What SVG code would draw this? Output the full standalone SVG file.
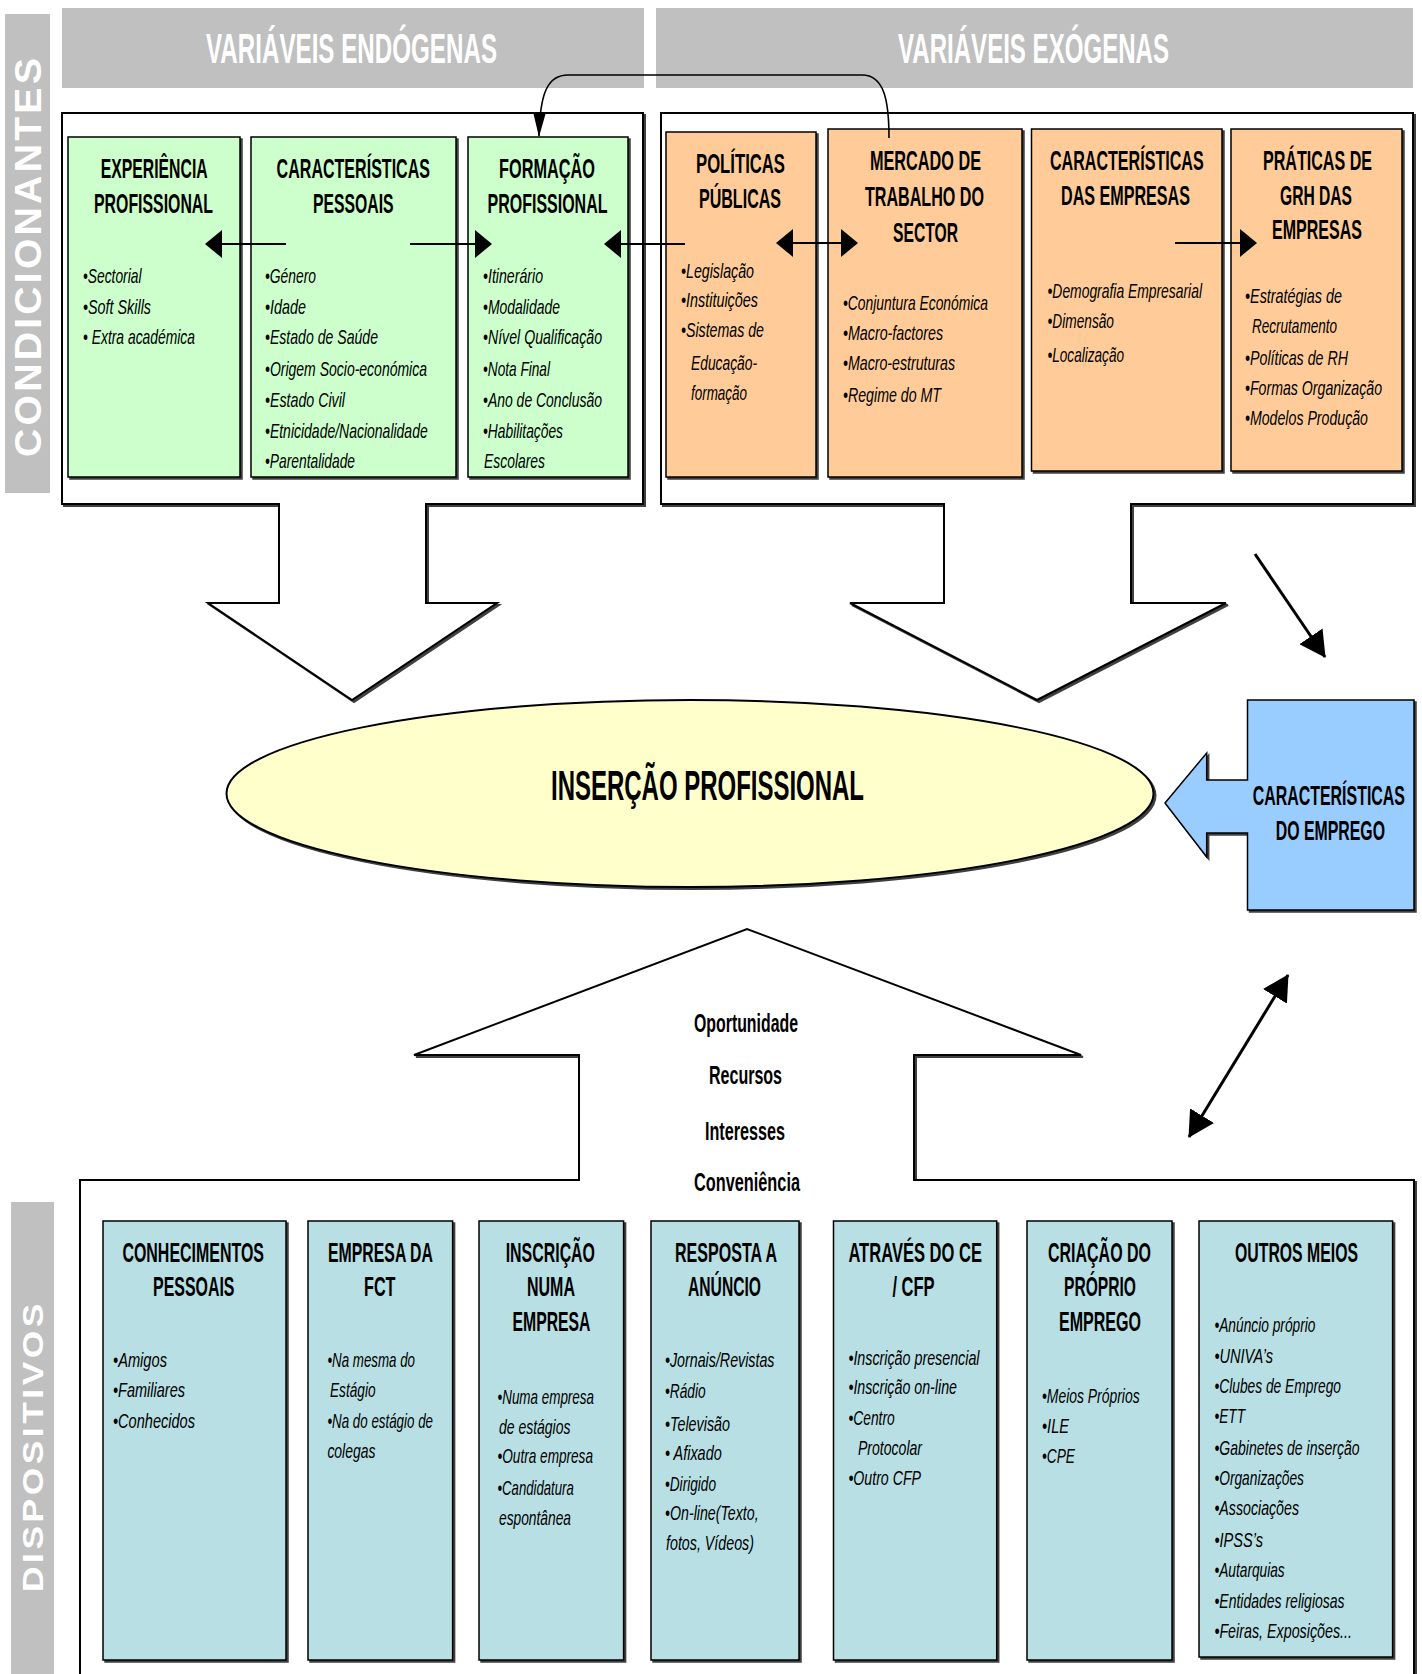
<svg xmlns="http://www.w3.org/2000/svg" width="1422" height="1674" viewBox="0 0 1422 1674">
<style>
text{font-family:'Liberation Sans Narrow','Liberation Sans',Arial,sans-serif;fill:#000}
.h{font-weight:bold;font-size:28px}
.b{font-style:italic;font-size:21px}
.hdr{font-weight:bold;font-size:42px;fill:#fff}
.side{font-family:'Liberation Sans',Arial,sans-serif;font-weight:bold;font-size:37px;letter-spacing:3px;fill:#fff}
.side2{font-family:'Liberation Sans',Arial,sans-serif;font-weight:bold;font-size:30px;letter-spacing:3px;fill:#fff}
.big{font-weight:bold;font-size:43px}
.mid{font-weight:bold;font-size:26px}
.gray{fill:#c0c0c0}
.frame{fill:#fff;stroke:#000;stroke-width:2;filter:url(#sh)}
.green{fill:#ccffcc;stroke:#000;stroke-width:1.5;filter:url(#sh)}
.orange{fill:#ffcc99;stroke:#000;stroke-width:1.5;filter:url(#sh)}
.teal{fill:#b8dfe3;stroke:#000;stroke-width:1.5;filter:url(#sh)}
.con{fill:none;stroke:#000;stroke-width:2}
.dia{fill:none;stroke:#000;stroke-width:3}
</style>
<defs>
<filter id="sh" x="-5%" y="-5%" width="112%" height="112%">
<feDropShadow dx="2" dy="2" stdDeviation="0.4" flood-color="#000" flood-opacity="0.75"/>
</filter>
<marker id="ah" markerUnits="userSpaceOnUse" markerWidth="17" markerHeight="28" refX="16" refY="14" orient="auto-start-reverse">
<path d="M0,0 L17,14 L0,28 Z" fill="#000"/>
</marker>
<marker id="ad" markerUnits="userSpaceOnUse" markerWidth="26" markerHeight="28" refX="25" refY="14" orient="auto-start-reverse">
<path d="M0,0 L26,14 L0,28 Z" fill="#000"/>
</marker>
<marker id="ac" markerUnits="userSpaceOnUse" markerWidth="25" markerHeight="13" refX="24" refY="6.5" orient="auto">
<path d="M0,0 L25,6.5 L0,13 Z" fill="#000"/>
</marker>
</defs>
<rect width="1422" height="1674" fill="#fff"/>

<g id="condicionantes">
<rect class="gray" x="5" y="14" width="45" height="479"/>
<text class="side" transform="translate(41,457) rotate(-90)" textLength="402" lengthAdjust="spacingAndGlyphs">CONDICIONANTES</text>
</g>
<g id="dispositivos">
<rect class="gray" x="11" y="1202" width="43" height="480"/>
<text class="side2" transform="translate(43,1592) rotate(-90)" textLength="292" lengthAdjust="spacingAndGlyphs">DISPOSITIVOS</text>
</g>
<g id="variaveis-endogenas">
<rect class="gray" x="62" y="8" width="582" height="80"/>
<text class="hdr" x="206" y="63" textLength="291" lengthAdjust="spacingAndGlyphs">VARIÁVEIS ENDÓGENAS</text>
</g>
<g id="variaveis-exogenas">
<rect class="gray" x="656" y="8" width="757" height="80"/>
<text class="hdr" x="898" y="63" textLength="271" lengthAdjust="spacingAndGlyphs">VARIÁVEIS EXÓGENAS</text>
</g>

<g id="frame-endogenas">
<path class="frame" d="M62,113 L643,113 L643,504 L426,504 L426,603 L497,603 L352,700 L208,603 L279,603 L279,504 L62,504 Z"/>
</g>
<g id="frame-exogenas">
<path class="frame" d="M661,113 L1413,113 L1413,504 L1131,504 L1131,603 L1226,603 L1037,700 L850,603 L944,603 L944,504 L661,504 Z"/>
</g>
<g id="frame-dispositivos">
<path class="frame" d="M80,1690 L80,1180 L579,1180 L579,1055 L414,1055 L747,929 L1081,1055 L914,1055 L914,1180 L1414,1180 L1414,1690 Z"/>
<text class="mid" x="694" y="1032" textLength="104" lengthAdjust="spacingAndGlyphs">Oportunidade</text>
<text class="mid" x="709" y="1084" textLength="73" lengthAdjust="spacingAndGlyphs">Recursos</text>
<text class="mid" x="705" y="1140" textLength="80" lengthAdjust="spacingAndGlyphs">Interesses</text>
<text class="mid" x="694" y="1191" textLength="106" lengthAdjust="spacingAndGlyphs">Conveniência</text>
</g>

<g id="experiencia-profissional">
<rect class="green" x="68" y="137" width="172" height="340"/>
<text class="h" x="100.7" y="178" textLength="107" lengthAdjust="spacingAndGlyphs">EXPERIÊNCIA</text>
<text class="h" x="94" y="213" textLength="119" lengthAdjust="spacingAndGlyphs">PROFISSIONAL</text>
<text class="b" x="83" y="283" textLength="58.5" lengthAdjust="spacingAndGlyphs">•Sectorial</text>
<text class="b" x="83" y="314" textLength="68" lengthAdjust="spacingAndGlyphs">•Soft Skills</text>
<text class="b" x="83" y="344" textLength="112" lengthAdjust="spacingAndGlyphs">• Extra académica</text>
</g>
<g id="caracteristicas-pessoais">
<rect class="green" x="251" y="137" width="205" height="340"/>
<text class="h" x="276.6" y="178" textLength="153.4" lengthAdjust="spacingAndGlyphs">CARACTERÍSTICAS</text>
<text class="h" x="313" y="213" textLength="80.6" lengthAdjust="spacingAndGlyphs">PESSOAIS</text>
<text class="b" x="265" y="283" textLength="51" lengthAdjust="spacingAndGlyphs">•Género</text>
<text class="b" x="265" y="314" textLength="41" lengthAdjust="spacingAndGlyphs">•Idade</text>
<text class="b" x="265" y="344" textLength="113" lengthAdjust="spacingAndGlyphs">•Estado de Saúde</text>
<text class="b" x="265" y="376" textLength="162" lengthAdjust="spacingAndGlyphs">•Origem Socio-económica</text>
<text class="b" x="265" y="407" textLength="80" lengthAdjust="spacingAndGlyphs">•Estado Civil</text>
<text class="b" x="265" y="438" textLength="162.7" lengthAdjust="spacingAndGlyphs">•Etnicidade/Nacionalidade</text>
<text class="b" x="265" y="468" textLength="90" lengthAdjust="spacingAndGlyphs">•Parentalidade</text>
</g>
<g id="formacao-profissional">
<rect class="green" x="468" y="137" width="160" height="340"/>
<text class="h" x="499" y="178" textLength="96" lengthAdjust="spacingAndGlyphs">FORMAÇÃO</text>
<text class="h" x="487.5" y="213" textLength="120" lengthAdjust="spacingAndGlyphs">PROFISSIONAL</text>
<text class="b" x="483" y="283" textLength="60" lengthAdjust="spacingAndGlyphs">•Itinerário</text>
<text class="b" x="483" y="314" textLength="77" lengthAdjust="spacingAndGlyphs">•Modalidade</text>
<text class="b" x="483" y="344" textLength="119" lengthAdjust="spacingAndGlyphs">•Nível Qualificação</text>
<text class="b" x="483" y="376" textLength="67" lengthAdjust="spacingAndGlyphs">•Nota Final</text>
<text class="b" x="483" y="407" textLength="119" lengthAdjust="spacingAndGlyphs">•Ano de Conclusão</text>
<text class="b" x="483" y="438" textLength="80" lengthAdjust="spacingAndGlyphs">•Habilitações</text>
<text class="b" x="484" y="468" textLength="61" lengthAdjust="spacingAndGlyphs">Escolares</text>
</g>

<g id="politicas-publicas">
<rect class="orange" x="666" y="132" width="150" height="345"/>
<text class="h" x="696" y="173" textLength="89" lengthAdjust="spacingAndGlyphs">POLÍTICAS</text>
<text class="h" x="699" y="208" textLength="82" lengthAdjust="spacingAndGlyphs">PÚBLICAS</text>
<text class="b" x="681" y="278" textLength="73" lengthAdjust="spacingAndGlyphs">•Legislação</text>
<text class="b" x="681" y="307" textLength="77" lengthAdjust="spacingAndGlyphs">•Instituições</text>
<text class="b" x="681" y="337" textLength="83" lengthAdjust="spacingAndGlyphs">•Sistemas de</text>
<text class="b" x="691" y="370" textLength="66" lengthAdjust="spacingAndGlyphs">Educação-</text>
<text class="b" x="691" y="400" textLength="56" lengthAdjust="spacingAndGlyphs">formação</text>
</g>
<g id="mercado-trabalho">
<rect class="orange" x="828" y="129" width="194" height="348"/>
<text class="h" x="870" y="170" textLength="111" lengthAdjust="spacingAndGlyphs">MERCADO DE</text>
<text class="h" x="865" y="206" textLength="119" lengthAdjust="spacingAndGlyphs">TRABALHO DO</text>
<text class="h" x="893" y="242" textLength="65" lengthAdjust="spacingAndGlyphs">SECTOR</text>
<text class="b" x="843" y="310" textLength="145" lengthAdjust="spacingAndGlyphs">•Conjuntura Económica</text>
<text class="b" x="843" y="340" textLength="100" lengthAdjust="spacingAndGlyphs">•Macro-factores</text>
<text class="b" x="843" y="370" textLength="112" lengthAdjust="spacingAndGlyphs">•Macro-estruturas</text>
<text class="b" x="843" y="402" textLength="98" lengthAdjust="spacingAndGlyphs">•Regime do MT</text>
</g>
<g id="caracteristicas-empresas">
<rect class="orange" x="1031.5" y="129" width="190.5" height="342"/>
<text class="h" x="1050" y="170" textLength="153.6" lengthAdjust="spacingAndGlyphs">CARACTERÍSTICAS</text>
<text class="h" x="1061" y="205" textLength="129" lengthAdjust="spacingAndGlyphs">DAS EMPRESAS</text>
<text class="b" x="1047.5" y="298" textLength="154.5" lengthAdjust="spacingAndGlyphs">•Demografia Empresarial</text>
<text class="b" x="1047.5" y="328" textLength="66.5" lengthAdjust="spacingAndGlyphs">•Dimensão</text>
<text class="b" x="1047.5" y="362" textLength="76.5" lengthAdjust="spacingAndGlyphs">•Localização</text>
</g>
<g id="praticas-grh">
<rect class="orange" x="1231" y="129" width="171" height="342"/>
<text class="h" x="1263" y="170" textLength="109" lengthAdjust="spacingAndGlyphs">PRÁTICAS DE</text>
<text class="h" x="1280" y="205" textLength="72" lengthAdjust="spacingAndGlyphs">GRH DAS</text>
<text class="h" x="1272" y="239" textLength="90" lengthAdjust="spacingAndGlyphs">EMPRESAS</text>
<text class="b" x="1245" y="303" textLength="97" lengthAdjust="spacingAndGlyphs">•Estratégias de</text>
<text class="b" x="1252" y="333" textLength="85" lengthAdjust="spacingAndGlyphs">Recrutamento</text>
<text class="b" x="1245" y="365" textLength="103" lengthAdjust="spacingAndGlyphs">•Políticas de RH</text>
<text class="b" x="1245" y="395" textLength="137" lengthAdjust="spacingAndGlyphs">•Formas Organização</text>
<text class="b" x="1245" y="425" textLength="123" lengthAdjust="spacingAndGlyphs">•Modelos Produção</text>
</g>

<g id="insercao-profissional">
<ellipse cx="690" cy="793.5" rx="463.5" ry="93.5" fill="#ffffcc" stroke="#000" stroke-width="2" filter="url(#sh)"/>
<text class="big" x="551" y="800" textLength="313" lengthAdjust="spacingAndGlyphs">INSERÇÃO PROFISSIONAL</text>
</g>
<g id="caracteristicas-emprego">
<path d="M1247.5,700 L1414,700 L1414,910 L1247.5,910 L1247.5,833 L1206.7,833 L1206.7,857 L1165,803 L1206.7,753 L1206.7,780 L1247.5,780 Z" fill="#99ccff" stroke="#000" stroke-width="1.5" filter="url(#sh)"/>
<text class="h" x="1252.7" y="805" textLength="152.3" lengthAdjust="spacingAndGlyphs">CARACTERÍSTICAS</text>
<text class="h" x="1275.7" y="840" textLength="109.3" lengthAdjust="spacingAndGlyphs">DO EMPREGO</text>
</g>

<g id="conhecimentos-pessoais">
<rect class="teal" x="103" y="1221" width="183" height="439"/>
<text class="h" x="122.4" y="1262" textLength="141.6" lengthAdjust="spacingAndGlyphs">CONHECIMENTOS</text>
<text class="h" x="153" y="1296" textLength="81.5" lengthAdjust="spacingAndGlyphs">PESSOAIS</text>
<text class="b" x="113" y="1367" textLength="54" lengthAdjust="spacingAndGlyphs">•Amigos</text>
<text class="b" x="113" y="1397" textLength="72" lengthAdjust="spacingAndGlyphs">•Familiares</text>
<text class="b" x="113" y="1428" textLength="82" lengthAdjust="spacingAndGlyphs">•Conhecidos</text>
</g>
<g id="empresa-fct">
<rect class="teal" x="308" y="1221" width="144.6" height="439"/>
<text class="h" x="328" y="1262" textLength="105" lengthAdjust="spacingAndGlyphs">EMPRESA DA</text>
<text class="h" x="364" y="1296" textLength="31.5" lengthAdjust="spacingAndGlyphs">FCT</text>
<text class="b" x="327.4" y="1367" textLength="87.6" lengthAdjust="spacingAndGlyphs">•Na mesma do</text>
<text class="b" x="330" y="1397" textLength="45.5" lengthAdjust="spacingAndGlyphs">Estágio</text>
<text class="b" x="327.4" y="1428" textLength="105.6" lengthAdjust="spacingAndGlyphs">•Na do estágio de</text>
<text class="b" x="327.4" y="1458" textLength="48" lengthAdjust="spacingAndGlyphs">colegas</text>
</g>
<g id="inscricao-empresa">
<rect class="teal" x="479" y="1221" width="144.6" height="439"/>
<text class="h" x="505.7" y="1262" textLength="89.3" lengthAdjust="spacingAndGlyphs">INSCRIÇÃO</text>
<text class="h" x="527" y="1296" textLength="48" lengthAdjust="spacingAndGlyphs">NUMA</text>
<text class="h" x="512.5" y="1331" textLength="78" lengthAdjust="spacingAndGlyphs">EMPRESA</text>
<text class="b" x="497.5" y="1404" textLength="96.5" lengthAdjust="spacingAndGlyphs">•Numa empresa</text>
<text class="b" x="499" y="1434" textLength="71.5" lengthAdjust="spacingAndGlyphs">de estágios</text>
<text class="b" x="497.5" y="1463" textLength="95.5" lengthAdjust="spacingAndGlyphs">•Outra empresa</text>
<text class="b" x="497.5" y="1495" textLength="76.2" lengthAdjust="spacingAndGlyphs">•Candidatura</text>
<text class="b" x="499" y="1525" textLength="72" lengthAdjust="spacingAndGlyphs">espontânea</text>
</g>
<g id="resposta-anuncio">
<rect class="teal" x="651" y="1221" width="148" height="439"/>
<text class="h" x="675" y="1262" textLength="102" lengthAdjust="spacingAndGlyphs">RESPOSTA A</text>
<text class="h" x="688" y="1296" textLength="73" lengthAdjust="spacingAndGlyphs">ANÚNCIO</text>
<text class="b" x="665" y="1367" textLength="109.5" lengthAdjust="spacingAndGlyphs">•Jornais/Revistas</text>
<text class="b" x="665" y="1398" textLength="40.7" lengthAdjust="spacingAndGlyphs">•Rádio</text>
<text class="b" x="665" y="1431" textLength="65" lengthAdjust="spacingAndGlyphs">•Televisão</text>
<text class="b" x="665" y="1460" textLength="56.7" lengthAdjust="spacingAndGlyphs">• Afixado</text>
<text class="b" x="665" y="1491" textLength="51" lengthAdjust="spacingAndGlyphs">•Dirigido</text>
<text class="b" x="665" y="1520" textLength="93.6" lengthAdjust="spacingAndGlyphs">•On-line(Texto,</text>
<text class="b" x="666" y="1550" textLength="88" lengthAdjust="spacingAndGlyphs">fotos, Vídeos)</text>
</g>
<g id="atraves-ce-cfp">
<rect class="teal" x="833.5" y="1221" width="163.2" height="439"/>
<text class="h" x="848.4" y="1262" textLength="133.6" lengthAdjust="spacingAndGlyphs">ATRAVÉS DO CE</text>
<text class="h" x="892.4" y="1296" textLength="42.2" lengthAdjust="spacingAndGlyphs">/ CFP</text>
<text class="b" x="848.4" y="1365" textLength="131.1" lengthAdjust="spacingAndGlyphs">•Inscrição presencial</text>
<text class="b" x="848.4" y="1394" textLength="108.6" lengthAdjust="spacingAndGlyphs">•Inscrição on-line</text>
<text class="b" x="848.4" y="1425" textLength="46.3" lengthAdjust="spacingAndGlyphs">•Centro</text>
<text class="b" x="858" y="1455" textLength="64" lengthAdjust="spacingAndGlyphs">Protocolar</text>
<text class="b" x="848.4" y="1485" textLength="72.6" lengthAdjust="spacingAndGlyphs">•Outro CFP</text>
</g>
<g id="criacao-emprego">
<rect class="teal" x="1027" y="1221" width="145" height="439"/>
<text class="h" x="1048" y="1262" textLength="103" lengthAdjust="spacingAndGlyphs">CRIAÇÃO DO</text>
<text class="h" x="1064" y="1296" textLength="72" lengthAdjust="spacingAndGlyphs">PRÓPRIO</text>
<text class="h" x="1059" y="1331" textLength="82" lengthAdjust="spacingAndGlyphs">EMPREGO</text>
<text class="b" x="1042" y="1403" textLength="97.6" lengthAdjust="spacingAndGlyphs">•Meios Próprios</text>
<text class="b" x="1042" y="1433" textLength="27" lengthAdjust="spacingAndGlyphs">•ILE</text>
<text class="b" x="1042" y="1463" textLength="33" lengthAdjust="spacingAndGlyphs">•CPE</text>
</g>
<g id="outros-meios">
<rect class="teal" x="1199" y="1221" width="193.6" height="436"/>
<text class="h" x="1235" y="1262" textLength="123" lengthAdjust="spacingAndGlyphs">OUTROS MEIOS</text>
<text class="b" x="1214.4" y="1332" textLength="101.1" lengthAdjust="spacingAndGlyphs">•Anúncio próprio</text>
<text class="b" x="1214.4" y="1363" textLength="58.6" lengthAdjust="spacingAndGlyphs">•UNIVA’s</text>
<text class="b" x="1214.4" y="1393" textLength="126.6" lengthAdjust="spacingAndGlyphs">•Clubes de Emprego</text>
<text class="b" x="1214.4" y="1423" textLength="30.6" lengthAdjust="spacingAndGlyphs">•ETT</text>
<text class="b" x="1214.4" y="1455" textLength="145.1" lengthAdjust="spacingAndGlyphs">•Gabinetes de inserção</text>
<text class="b" x="1214.4" y="1485" textLength="89.6" lengthAdjust="spacingAndGlyphs">•Organizações</text>
<text class="b" x="1214.4" y="1515" textLength="84.6" lengthAdjust="spacingAndGlyphs">•Associações</text>
<text class="b" x="1214.4" y="1547" textLength="48.6" lengthAdjust="spacingAndGlyphs">•IPSS’s</text>
<text class="b" x="1214.4" y="1577" textLength="70.3" lengthAdjust="spacingAndGlyphs">•Autarquias</text>
<text class="b" x="1214.4" y="1608" textLength="130.2" lengthAdjust="spacingAndGlyphs">•Entidades religiosas</text>
<text class="b" x="1214.4" y="1638" textLength="137.6" lengthAdjust="spacingAndGlyphs">•Feiras, Exposições...</text>
</g>

<g id="connectors">
<line class="con" x1="286" y1="244" x2="206" y2="244" marker-end="url(#ah)"/>
<line class="con" x1="410" y1="244" x2="491" y2="244" marker-end="url(#ah)"/>
<line class="con" x1="685" y1="244" x2="605" y2="244" marker-end="url(#ah)"/>
<line class="con" x1="777" y1="243" x2="857" y2="243" marker-start="url(#ah)" marker-end="url(#ah)"/>
<line class="con" x1="1175" y1="243" x2="1256" y2="243" marker-end="url(#ah)"/>
<path d="M889,138 C889,100 884,75 862,75 L568,75 C548,75 540,92 539,136" fill="none" stroke="#000" stroke-width="1.6" marker-end="url(#ac)"/>
<line class="dia" x1="1255" y1="554" x2="1325" y2="657" marker-end="url(#ad)"/>
<line class="dia" x1="1288" y1="975" x2="1189" y2="1137" marker-start="url(#ad)" marker-end="url(#ad)"/>
</g>
</svg>
